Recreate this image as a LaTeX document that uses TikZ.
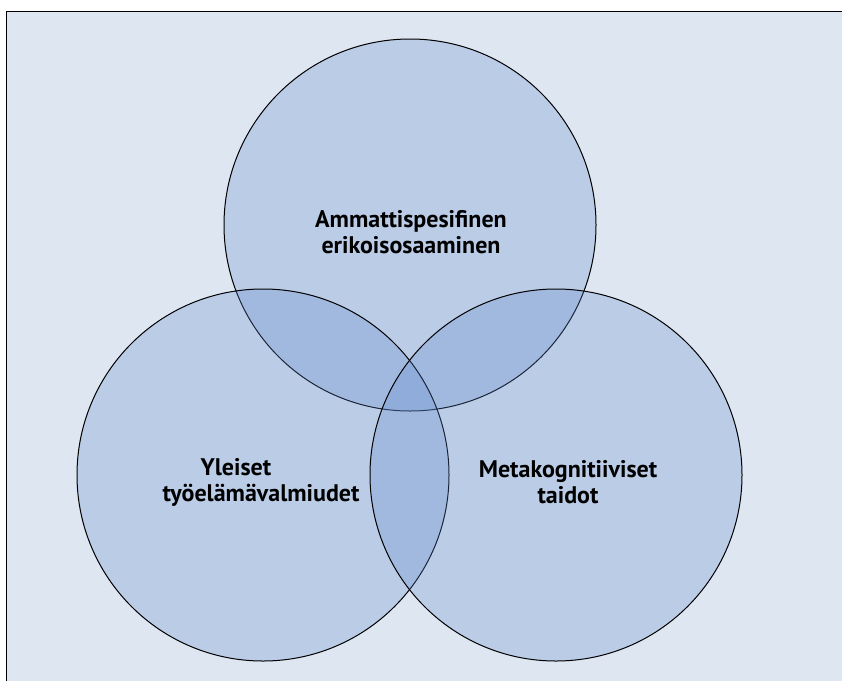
\documentclass[tikz,border=0pt]{standalone}
\usepackage{fontspec}
\setmainfont{PT Sans}
\usetikzlibrary{positioning}
\definecolor{paper}{RGB}{222,230,242}
\definecolor{setblue}{RGB}{96,137,205}
\tikzstyle{setCircle} = [
  circle,
  draw=black,
  line width=1pt,
  fill=setblue,
  fill opacity=0.27,
  draw opacity=1,
  minimum size=372pt,
  inner sep=0pt]
\tikzstyle{setLabel} = [
  align=center,
  font=\fontsize{24}{26}\selectfont\bfseries,
  text=black]

\begin{document}
\begin{tikzpicture}[x=1pt,y=-1pt]
  \useasboundingbox (0,0) rectangle (842,681);
  \fill[white] (0,0) rectangle (842,681);
  \fill[paper] (6.5,11.5) rectangle (842,681);
  \draw[line width=1.5pt] (6.5,681) |- (842,11.5);

  % the three sets
  \node[setCircle] (skills) at (410,225) {};
  \node[setCircle] (general) at (263,475) {};
  \node[setCircle] (meta) at (556,475) {};

  \node[setLabel] (skillsText) at (411,232) {Ammattispesifinen\\erikoisosaaminen};
  \node[setLabel] (generalText) at (261,482) {Yleiset\hspace*{50pt}\\työelämävalmiudet};
  \node[setLabel] (metaText) at (568,482) {Metakognitiiviset\\taidot};
\end{tikzpicture}
\end{document}
